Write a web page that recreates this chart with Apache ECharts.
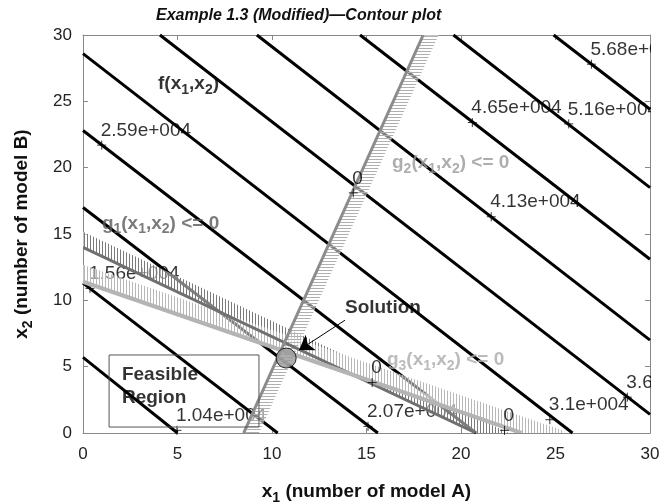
<!DOCTYPE html>
<html><head><meta charset="utf-8">
<script src="https://cdn.jsdelivr.net/npm/echarts@6/dist/echarts.min.js"></script>
<style>html,body{margin:0;padding:0;background:#fff}#c{width:661px;height:504px}</style>
</head><body><div id="c"></div>
<script>
// ---- data ----
const xTicks = [0, 5, 10, 15, 20, 25, 30];
const yTicks = [0, 5, 10, 15, 20, 25, 30];
const contourLevels = ['1.04e+004','1.56e+004','2.07e+004','2.59e+004','3.1e+004','3.62e+004','4.13e+004','4.65e+004','5.16e+004','5.68e+004'];
const contourStart = [[0,5.7],[0,11.3],[0,17.0],[0,22.8],[0,28.6],[4.07,30],[9.2,30],[14.66,30],[19.6,30],[24.9,30]];
const contourEnd   = [[5.0,0],[10.3,0],[15.6,0],[20.8,0],[25.9,0],[30,1.4],[30,7.0],[30,13.1],[30,18.5],[30,24.4]];
const contourLabelPoints = [[4.97,0.2],[0.37,10.9],[15.08,0.5],[0.99,21.7],[24.7,1.0],[28.8,2.7],[21.6,16.3],[20.6,23.4],[25.7,23.3],[26.9,27.8]];
const g1Line = [[0,14.0],[20.8,0]];
const g2Line = [[8.5,0],[18.0,30]];
const g3Line = [[0,11.4],[23.2,0]];
const zeroLabelPoints = [[15.3,3.8],[14.3,18.1],[22.3,0.2]];
const solutionPoint = [10.75, 5.65];

// ---- annotation anchors (text left-middle, data units) ----
const fAnchor = [3.97, 26.3];
const g1Anchor = [1.0, 15.8];
const g2Anchor = [16.35, 20.35];
const g3Anchor = [16.08, 5.5];
const solAnchor = [13.86, 9.42];
const feasAnchor = [2.06, 4.37];
const regAnchor = [2.06, 2.64];
const arrowFrom = [13.86, 8.5];
const arrowTo = [11.43, 6.25];
const boxCorners = [[1.38, 0.45], [9.31, 5.88]];

const FONT = 'Liberation Sans, Arial, sans-serif';
const chart = echarts.init(document.getElementById('c'), null, {renderer:'canvas'});

function makePattern(dir, color, bg){
  const c = document.createElement('canvas'); c.width = 3; c.height = 3;
  const ctx = c.getContext('2d');
  if (bg) { ctx.fillStyle = bg; ctx.fillRect(0,0,3,3); }
  ctx.fillStyle = color;
  if (dir === 'h') ctx.fillRect(0,0,3,1); else ctx.fillRect(0,0,1,3);
  return {type:'pattern', image:c, repeat:'repeat'};
}

function bandRenderer(line, side, width, pattern){
  return function(params, api){
    const a = api.coord(line[0]), b = api.coord(line[1]);
    let dx = b[0]-a[0], dy = b[1]-a[1];
    const L = Math.hypot(dx, dy); dx/=L; dy/=L;
    const ext = 40;
    const a2 = [a[0]-dx*ext, a[1]-dy*ext], b2 = [b[0]+dx*ext, b[1]+dy*ext];
    let nx = -dy, ny = dx;
    if ((side === 'right' && nx < 0) || (side === 'up' && ny > 0)) { nx = -nx; ny = -ny; }
    return {type:'polygon', shape:{points:[a2, b2, [b2[0]+nx*width, b2[1]+ny*width], [a2[0]+nx*width, a2[1]+ny*width]]},
            style:{fill:pattern}};
  };
}

const rich = (color, size) => ({
  n: {fontSize:size, fontWeight:'bold', color:color, fontFamily:FONT},
  s: {fontSize:Math.round(size*0.72), fontWeight:'bold', color:color, fontFamily:FONT, padding:[12,0,0,0]}
});
function gText(k){ return '{n|g}{s|' + k + '}{n|(x}{s|1}{n|,x}{s|2}{n|) <= 0}'; }
function textPoint(anchor, text, color, size){
  return {value: anchor, label:{show:true, position:'right', distance:0, formatter:text, rich:rich(color, size)}};
}
const plus = 'path://M0,5L10,5M5,0L5,10';

const axisBase = {type:'value', min:0, max:30, interval:5, splitLine:{show:false},
  axisLine:{show:true, onZero:false, lineStyle:{color:'#888', width:1}},
  axisTick:{show:true, inside:true, length:5, lineStyle:{color:'#888'}}};

chart.setOption({
  animation:false,
  backgroundColor:'#fff',
  title:{text:'Example 1.3 (Modified)\u2014Contour plot', left:151, top:3,
    textStyle:{fontSize:16, fontWeight:'bold', fontStyle:'italic', color:'#111', fontFamily:FONT}},
  grid:{left:83, right:11, top:35, bottom:71, containLabel:false, outerBoundsMode:'none'},
  xAxis:[
    Object.assign({}, axisBase, {position:'bottom', data:xTicks,
      axisLabel:{show:true, fontSize:17, color:'#222', margin:13, fontFamily:FONT},
      name:'{n|x}{s|1}{n| (number of model A)}', nameLocation:'middle', nameGap:46,
      nameTextStyle:{rich:rich('#111', 19)}}),
    Object.assign({}, axisBase, {position:'top', axisLabel:{show:false}})
  ],
  yAxis:[
    Object.assign({}, axisBase, {position:'left', data:yTicks,
      axisLabel:{show:true, fontSize:17, color:'#222', margin:11, fontFamily:FONT},
      name:'{n|x}{s|2}{n| (number of model B)}', nameLocation:'middle', nameGap:48, nameRotate:90,
      nameTextStyle:{rich:rich('#111', 19)}}),
    Object.assign({}, axisBase, {position:'right', axisLabel:{show:false}})
  ],
  graphic:[{type:'rect', left:651, top:0, shape:{width:10, height:440}, style:{fill:'#fff'}, z:100}],
  series:[
    {type:'lines', coordinateSystem:'cartesian2d', z:2, silent:true,
      lineStyle:{color:'#000', width:3, opacity:1},
      data: contourStart.map((s,i) => ({coords:[s, contourEnd[i]]}))},
    {type:'scatter', z:3, symbol:plus, symbolSize:9,
      itemStyle:{color:'rgba(0,0,0,0)', borderColor:'#000', borderWidth:1},
      label:{show:true, position:[4,-19], fontSize:19, color:'#000', fontFamily:FONT,
        formatter: p => contourLevels[p.dataIndex]},
      data: contourLabelPoints},
    {type:'custom', z:4, clip:true, silent:true, data:[[0,0]],
      renderItem: bandRenderer(g1Line, 'up', 14, makePattern('v', '#7a7a7a', 'rgba(255,255,255,0.5)'))},
    {type:'custom', z:4, clip:true, silent:true, data:[[0,0]],
      renderItem: bandRenderer(g3Line, 'up', 16, makePattern('v', '#b8b8b8', 'rgba(255,255,255,0.5)'))},
    {type:'custom', z:4, clip:true, silent:true, data:[[0,0]],
      renderItem: bandRenderer(g2Line, 'right', 14, makePattern('h', '#b0b0b0', 'rgba(255,255,255,0.5)'))},
    {type:'lines', coordinateSystem:'cartesian2d', z:5, silent:true,
      data:[
        {coords:g1Line, lineStyle:{color:'#707070', width:3, opacity:1}},
        {coords:g3Line, lineStyle:{color:'#b4b4b4', width:4, opacity:1}},
        {coords:g2Line, lineStyle:{color:'#8c8c8c', width:3, opacity:1}}
      ]},
    {type:'scatter', z:6, symbol:plus, symbolSize:9,
      itemStyle:{color:'rgba(0,0,0,0)', borderColor:'#000', borderWidth:1},
      label:{show:true, position:[4,-19], fontSize:19, color:'#000', fontFamily:FONT, formatter:'0'},
      data: zeroLabelPoints},
    {type:'custom', z:6, silent:true, data:[[0,0]],
      renderItem:(params, api) => {
        const p1 = api.coord(boxCorners[0]), p2 = api.coord(boxCorners[1]);
        return {type:'rect', shape:{x:Math.min(p1[0],p2[0]), y:Math.min(p1[1],p2[1]), width:Math.abs(p2[0]-p1[0]), height:Math.abs(p2[1]-p1[1])},
          style:{fill:'none', stroke:'#555', lineWidth:1}};
      }},
    {type:'lines', coordinateSystem:'cartesian2d', z:7, silent:true,
      symbol:['none','arrow'], symbolSize:[0,14],
      lineStyle:{color:'#000', width:1, opacity:1},
      data:[{coords:[arrowFrom, arrowTo]}]},
    {type:'scatter', z:7, symbol:'circle', symbolSize:20,
      itemStyle:{color:'#9a9a9a', borderColor:'#000', borderWidth:1},
      data:[solutionPoint]},
    {type:'scatter', z:8, symbolSize:0, silent:true,
      data:[
        textPoint(fAnchor, '{n|f(x}{s|1}{n|,x}{s|2}{n|)}', '#000', 19),
        textPoint(g1Anchor, gText('1'), '#5a5a5a', 19),
        textPoint(g2Anchor, gText('2'), '#999', 19),
        textPoint(g3Anchor, gText('3'), '#aaa', 19),
        textPoint(solAnchor, '{n|Solution}', '#000', 19),
        textPoint(feasAnchor, '{n|Feasible}', '#000', 19),
        textPoint(regAnchor, '{n|Region}', '#000', 19)
      ]}
  ]
});
</script></body></html>
